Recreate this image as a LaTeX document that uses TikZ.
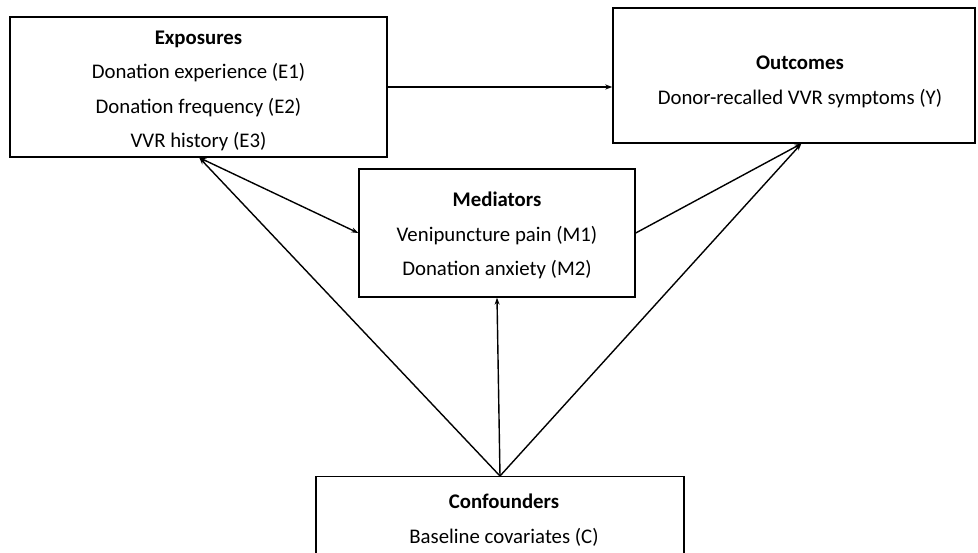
\documentclass[tikz,border=0pt]{standalone}
\usepackage{fontspec}
\setmainfont{Carlito}
\usetikzlibrary{arrows.meta,calc}
\begin{document}
\begin{tikzpicture}[x=1pt,y=-1pt,
  box/.style={draw, line width=1.4pt, inner sep=0pt},
  txt/.style={align=center, inner sep=0pt, font=\fontsize{20.8}{34.3}\selectfont},
  conn/.style={line width=1.4pt, -{Stealth[length=7pt,width=5pt]}},
  conn2/.style={line width=1.4pt, {Stealth[length=7pt,width=5pt]}-{Stealth[length=7pt,width=5pt]}}]
\useasboundingbox (0,0) rectangle (978,552);
\clip (0,0) rectangle (978,552);
\node[box, minimum width=377pt, minimum height=140pt] (ex) at (198.5,87) {};
\node[txt] (ext) at (198.5,91)
  {\textbf{Exposures}\\Donation experience (E1)\\Donation frequency (E2)\\VVR history (E3)};
\node[box, minimum width=362pt, minimum height=135pt] (oc) at (794,75.5) {};
\node[txt] (oct) at (800,82) {\textbf{Outcomes}\\Donor-recalled VVR symptoms (Y)};
\node[box, minimum width=276pt, minimum height=128pt] (med) at (497,233) {};
\node[txt] (medt) at (497,235.5)
  {\textbf{Mediators}\\Venipuncture pain (M1)\\Donation anxiety (M2)};
\node[box, minimum width=368pt, minimum height=140pt, anchor=north] (cf) at (500,476) {};
\node[txt] (cft) at (504,520) {\textbf{Confounders}\\Baseline covariates (C)};
\coordinate (exb) at ($(ex.south west)+(190,0)$);
\coordinate (ocb) at ($(oc.south west)+(189,0)$);
\draw[conn] (ex.east) -- (ex.east -| oc.west);
\draw[conn2] (exb) -- (med.west);
\draw[conn] (med.east) -- (ocb);
\draw[conn] (cf.north) -- (exb);
\draw[conn] (cf.north) -- (med.south);
\draw[conn] (cf.north) -- (ocb);
\end{tikzpicture}
\end{document}
